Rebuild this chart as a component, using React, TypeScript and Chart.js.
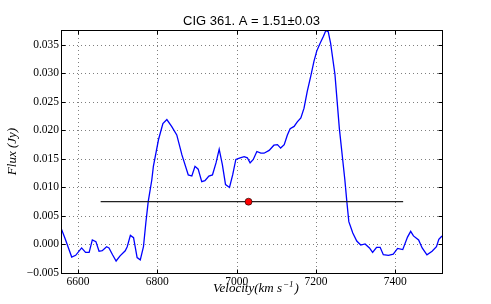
import React, { useEffect, useRef } from 'react';
import { Chart, registerables } from 'chart.js';

Chart.register(...registerables);

// Spectrum: velocity (km/s) and flux (Jy)
const velocity = [
  6557, 6567, 6584, 6594, 6609, 6619, 6628, 6636, 6645, 6653, 6661, 6672, 6678, 6687, 6696,
  6706, 6719, 6724, 6732, 6740, 6749, 6757, 6765, 6771, 6777, 6786, 6790, 6803, 6814, 6824,
  6836, 6849, 6862, 6878, 6887, 6895, 6903, 6912, 6920, 6930, 6939, 6948, 6956, 6964, 6972,
  6982, 6990, 6998, 7009, 7019, 7027, 7034, 7042, 7051, 7061, 7069, 7082, 7094, 7103, 7111,
  7120, 7128, 7135, 7145, 7153, 7162, 7170, 7178, 7187, 7195, 7202, 7210, 7219, 7225, 7231,
  7237, 7248, 7259, 7273, 7278, 7283, 7293, 7303, 7313, 7324, 7335, 7343, 7353, 7362, 7370,
  7383, 7395, 7406, 7419, 7431, 7439, 7446, 7459, 7468, 7480, 7493, 7504, 7510, 7518,
];
const flux = [
  0.0029, 0.0011, -0.0022, -0.0019, -0.0006, -0.0014, -0.0014, 0.0008, 0.0005, -0.0012, -0.0011, -0.0004, -0.0006, -0.0018, -0.0029,
  -0.0020, -0.0011, -0.0004, 0.0016, 0.0012, -0.0023, -0.0027, -0.0004, 0.0038, 0.0075, 0.0113, 0.0137, 0.0184, 0.0212, 0.0219,
  0.0207, 0.0192, 0.0157, 0.0122, 0.0120, 0.0137, 0.0132, 0.0110, 0.0112, 0.0120, 0.0122, 0.0143, 0.0167, 0.0140, 0.0105,
  0.0100, 0.0122, 0.0149, 0.0152, 0.0154, 0.0152, 0.0143, 0.0149, 0.0163, 0.0160, 0.0160, 0.0165, 0.0174, 0.0175, 0.0169,
  0.0175, 0.0192, 0.0203, 0.0207, 0.0215, 0.0222, 0.0239, 0.0268, 0.0295, 0.0321, 0.0339, 0.0352, 0.0365, 0.0375, 0.0373,
  0.0353, 0.0298, 0.0204, 0.0113, 0.0075, 0.0040, 0.0020, 0.0006, -0.0001, 0.0001, -0.0006, -0.0014, -0.0005, -0.0005, -0.0018,
  -0.0019, -0.0017, -0.0007, -0.0009, 0.0013, 0.0023, 0.0015, 0.0008, -0.0006, -0.0018, -0.0012, -0.0004, 0.0009, 0.0015,
];

// Horizontal width bar and centre point
const barVelocity = [6657, 7420];
const barFlux = [0.0075, 0.0075];
const centreVelocity = [7030];
const centreFlux = [0.0075];

// Axes
const xTicks = [6600, 6800, 7000, 7200, 7400];
const yTicks = [-0.005, 0.0, 0.005, 0.01, 0.015, 0.02, 0.025, 0.03, 0.035];
const xRange = [6557, 7518];
const yRange = [-0.005, 0.0376];

const titleText = 'CIG 361. A = 1.51\u00B10.03';
const xTitleMain = 'Velocity(km s';
const xTitleSup = '\u22121';
const xTitleEnd = ')';
const yTitle = 'Flux (Jy)';

const SERIF = '"Liberation Serif", "Times New Roman", serif';

const toXY = (xs: number[], ys: number[]) => xs.map((x, i) => ({ x, y: ys[i] }));

const gridPlugin = {
  id: 'dottedGrid',
  beforeDatasetsDraw(chart: any) {
    const { ctx, chartArea: a, scales } = chart;
    const xs = scales.x;
    const ys = scales.y;
    ctx.save();
    ctx.strokeStyle = 'rgba(0,0,0,0.5)';
    ctx.lineWidth = 1;
    ctx.setLineDash([1, 3]);
    ctx.beginPath();
    xTicks.forEach((v) => {
      const p = Math.round(xs.getPixelForValue(v)) + 0.5;
      ctx.moveTo(p, a.top);
      ctx.lineTo(p, a.bottom);
    });
    yTicks.forEach((v) => {
      const p = Math.round(ys.getPixelForValue(v)) + 0.5;
      ctx.moveTo(a.left, p);
      ctx.lineTo(a.right, p);
    });
    ctx.stroke();
    ctx.restore();
  },
};

const framePlugin = {
  id: 'frameTicks',
  afterDraw(chart: any) {
    const { ctx, chartArea: a, scales, width, height } = chart;
    const xs = scales.x;
    const ys = scales.y;
    const L = Math.floor(a.left) + 0.5;
    const R = Math.floor(a.right) + 0.5;
    const T = Math.floor(a.top) + 0.5;
    const B = Math.floor(a.bottom) + 0.5;
    const len = 4;
    ctx.save();
    ctx.strokeStyle = '#000';
    ctx.lineWidth = 1;
    ctx.setLineDash([]);
    ctx.beginPath();
    xTicks.forEach((v) => {
      const p = Math.round(xs.getPixelForValue(v)) + 0.5;
      ctx.moveTo(p, B);
      ctx.lineTo(p, B - len);
      ctx.moveTo(p, T);
      ctx.lineTo(p, T + len);
    });
    yTicks.forEach((v) => {
      const p = Math.round(ys.getPixelForValue(v)) + 0.5;
      ctx.moveTo(L, p);
      ctx.lineTo(L + len, p);
      ctx.moveTo(R, p);
      ctx.lineTo(R - len, p);
    });
    ctx.stroke();
    ctx.strokeRect(L, T, R - L, B - T);

    // x-axis title with a real superscript
    ctx.fillStyle = '#000';
    ctx.textBaseline = 'alphabetic';
    ctx.textAlign = 'left';
    const mainFont = 'italic 13px ' + SERIF;
    const supFont = 'italic 9px ' + SERIF;
    ctx.font = mainFont;
    const w1 = ctx.measureText(xTitleMain).width;
    const w3 = ctx.measureText(xTitleEnd).width;
    ctx.font = supFont;
    const w2 = ctx.measureText(xTitleSup).width + 1;
    const total = w1 + w2 + w3;
    const cx = (a.left + a.right) / 2 + 4;
    let x0 = cx - total / 2;
    const base = height - 12;
    ctx.font = mainFont;
    ctx.fillText(xTitleMain, x0, base);
    x0 += w1 + 1;
    ctx.font = supFont;
    ctx.fillText(xTitleSup, x0, base - 5);
    x0 += w2;
    ctx.font = mainFont;
    ctx.fillText(xTitleEnd, x0, base);
    ctx.restore();
  },
};

export default function App() {
  const ref = useRef<HTMLCanvasElement | null>(null);

  useEffect(() => {
    document.body.style.margin = '0';
    const canvas = ref.current;
    if (!canvas) return;
    const chart = new Chart(canvas, {
      type: 'line',
      data: {
        datasets: [
          {
            data: toXY(velocity, flux),
            borderColor: '#0000ff',
            borderWidth: 1.3,
            pointRadius: 0,
            tension: 0,
            fill: false,
            order: 3,
          },
          {
            data: toXY(barVelocity, barFlux),
            borderColor: '#222222',
            borderWidth: 1.2,
            pointRadius: 0,
            fill: false,
            order: 2,
          },
          {
            data: toXY(centreVelocity, centreFlux),
            showLine: false,
            pointRadius: 3.5,
            pointBackgroundColor: '#ff0000',
            pointBorderColor: '#000000',
            pointBorderWidth: 0.6,
            order: 1,
          },
        ],
      },
      options: {
        responsive: false,
        animation: false,
        events: [],
        layout: { padding: { top: 0, right: 49, bottom: 0, left: 0 } },
        plugins: {
          legend: { display: false },
          tooltip: { enabled: false },
          title: {
            display: true,
            text: titleText,
            fullSize: false,
            color: '#000',
            font: { family: '"Liberation Sans", Arial, sans-serif', size: 13, weight: 'normal', lineHeight: 16 / 13 },
            padding: { top: 13.5, bottom: 0.5 },
          },
        },
        scales: {
          x: {
            type: 'linear',
            position: 'bottom',
            min: xRange[0],
            max: xRange[1],
            afterBuildTicks: (s: any) => {
              s.ticks = xTicks.map((v) => ({ value: v }));
            },
            afterFit: (s: any) => {
              s.height = 31;
            },
            grid: { display: false, drawTicks: false },
            border: { display: false },
            ticks: {
              autoSkip: false,
              maxRotation: 0,
              padding: 2,
              color: '#000',
              font: { family: SERIF, size: 11.5 },
              callback: (v: any) => String(v),
            },
            title: { display: false },
          },
          y: {
            type: 'linear',
            position: 'left',
            min: yRange[0],
            max: yRange[1],
            afterBuildTicks: (s: any) => {
              s.ticks = yTicks.map((v) => ({ value: v }));
            },
            afterFit: (s: any) => {
              s.width = 61;
            },
            grid: { display: false, drawTicks: false },
            border: { display: false },
            ticks: {
              autoSkip: false,
              padding: 2,
              color: '#000',
              font: { family: SERIF, size: 11.5 },
              callback: (v: any) => {
                const n = Number(v);
                const s = Math.abs(n).toFixed(3);
                return n < -1e-9 ? '\u2212' + s : s;
              },
            },
            title: {
              display: true,
              text: yTitle,
              color: '#000',
              padding: { top: 5, bottom: 0 },
              font: { family: SERIF, size: 13, style: 'italic' },
            },
          },
        },
      },
      plugins: [gridPlugin, framePlugin],
    } as any);
    return () => chart.destroy();
  }, []);

  return (
    <div style={{ width: 491, height: 304 }}>
      <canvas ref={ref} width={491} height={304} style={{ display: 'block' }} />
    </div>
  );
}
